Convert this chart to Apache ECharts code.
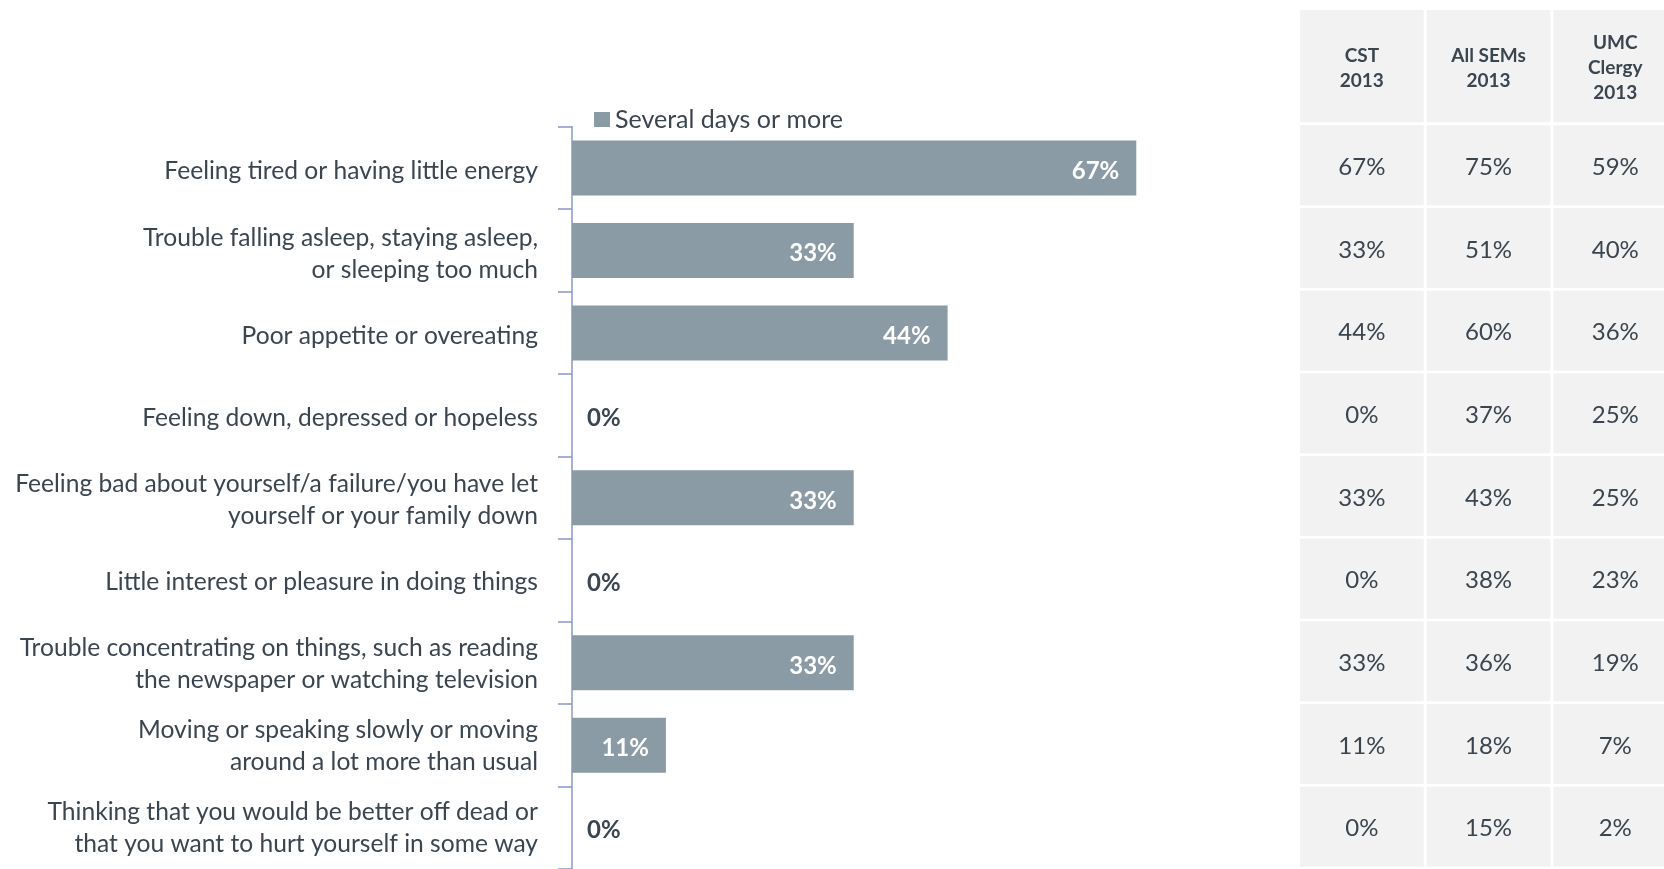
<!DOCTYPE html>
<html lang="en">
<head>
    <meta charset="UTF-8">
    <script src="https://cdn.jsdelivr.net/npm/echarts@6/dist/echarts.min.js"></script>
    <style>
        body {margin:0; background:#fff;}
        #box {width:1664px; height:869px;}
    </style>
    <title>Several days or more</title>
</head>
<body>
    <div id="box"></div>
    <script>
        // bar chart data (share of respondents, n = 9)
        let categories = [
            'Feeling tired or having little energy',
            'Trouble falling asleep, staying asleep,\nor sleeping too much',
            'Poor appetite or overeating',
            'Feeling down, depressed or hopeless',
            'Feeling bad about yourself/a failure/you have let\nyourself or your family down',
            'Little interest or pleasure in doing things',
            'Trouble concentrating on things, such as reading\nthe newspaper or watching television',
            'Moving or speaking slowly or moving\naround a lot more than usual',
            'Thinking that you would be better off dead or\nthat you want to hurt yourself in some way'
        ]
        let severalDays = [66.7, 33.3, 44.4, 0, 33.3, 0, 33.3, 11.1, 0]

        // comparison table
        let tableHeaders = ['CST\n2013', 'All SEMs\n2013', 'UMC\nClergy\n2013']
        let cst2013 = [67, 33, 44, 0, 33, 0, 33, 11, 0]
        let allSems2013 = [75, 51, 60, 37, 43, 38, 36, 18, 15]
        let umcClergy2013 = [59, 40, 36, 25, 25, 23, 19, 7, 2]

        const FONT = 'Lato'
        const TXT = '#3b4550'
        const AXIS = '#8797cc'

        let chart = echarts.init(document.getElementById('box'))

        let barData = severalDays.map(v => {
            let item = {value: v}
            if (v === 0) {
                item.label = {position: 'right', distance: 15, color: TXT}
            }
            return item
        })

        let cellData = []
        let cols = [cst2013, allSems2013, umcClergy2013]
        cols.forEach((col, ci) => {
            col.forEach((v, ri) => cellData.push([ci, ri, v + '%']))
        })
        let headData = tableHeaders.map((h, ci) => [ci, 0, h])

        // table columns are 126.7px apart, the last one runs off the page
        let tableLeft = 1298.5
        let colMax = -0.5 + (1664 - tableLeft) / 126.7

        function cellRenderer(src, gapY, textStyle) {
            return function (params, api) {
                let c = api.coord([api.value(0), api.value(1)])
                let s = api.size([1, 1])
                return {
                    type: 'group',
                    children: [{
                        type: 'rect',
                        shape: {x: c[0] - s[0] / 2 + 1.5, y: c[1] - s[1] / 2 + gapY / 2, width: s[0] - 3, height: s[1] - gapY},
                        style: {fill: '#f2f2f2'}
                    }, {
                        type: 'text',
                        style: Object.assign({
                            text: src[params.dataIndex][2], x: c[0], y: c[1] + 2,
                            align: 'center', verticalAlign: 'middle',
                            fontFamily: FONT, fill: TXT
                        }, textStyle)
                    }]
                }
            }
        }

        let options = {
            animation: false,
            legend: {
                left: 589, top: 102,
                icon: 'rect', itemWidth: 16, itemHeight: 15, itemGap: 5,
                textStyle: {fontFamily: FONT, fontSize: 25, color: TXT},
                data: ['Several days or more']
            },
            grid: [
                {left: 572, top: 126.7, width: 846, height: 747},
                {left: tableLeft, top: 124, right: 0, height: 744},
                {left: tableLeft, top: 10, right: 0, height: 112.3},
                // labels only, sit a little lower than the band centres
                {left: 572, top: 130.5, width: 846, height: 747}
            ],
            xAxis: [
                {gridIndex: 0, type: 'value', min: 0, max: 100, show: false, splitLine: {show: false}},
                {gridIndex: 1, type: 'value', min: -0.5, max: colMax, show: false, splitLine: {show: false}},
                {gridIndex: 2, type: 'value', min: -0.5, max: colMax, show: false, splitLine: {show: false}},
                {gridIndex: 3, type: 'value', min: 0, max: 100, show: false, splitLine: {show: false}}
            ],
            yAxis: [
                {
                    gridIndex: 0, type: 'category', inverse: true, data: categories,
                    axisLine: {show: true, lineStyle: {color: AXIS, width: 1.5}},
                    axisTick: {show: true, length: 14, lineStyle: {color: AXIS, width: 1.5}},
                    axisLabel: {show: false}
                },
                {gridIndex: 1, type: 'category', inverse: true, data: categories.map((c, i) => i), show: false},
                {gridIndex: 2, type: 'category', data: [0], show: false},
                {
                    gridIndex: 3, type: 'category', inverse: true, data: categories,
                    axisLine: {show: false}, axisTick: {show: false},
                    axisLabel: {margin: 34, fontFamily: FONT, fontSize: 24.6, lineHeight: 32, color: TXT, align: 'right'}
                }
            ],
            series: [
                {
                    name: 'Several days or more',
                    type: 'bar', xAxisIndex: 0, yAxisIndex: 0,
                    barWidth: 55,
                    itemStyle: {color: '#8b9ba5'},
                    label: {
                        show: true, position: 'insideRight', distance: 17, offset: [0, 3],
                        fontFamily: FONT, fontSize: 24, fontWeight: 'bold', color: '#fff',
                        formatter: p => Math.round(p.value) + '%'
                    },
                    data: barData
                },
                {
                    type: 'custom', xAxisIndex: 1, yAxisIndex: 1,
                    renderItem: cellRenderer(cellData, 2.7, {fontSize: 24}),
                    data: cellData.map(d => [d[0], d[1]])
                },
                {
                    type: 'custom', xAxisIndex: 2, yAxisIndex: 2,
                    renderItem: cellRenderer(headData, 0, {fontSize: 19, fontWeight: 'bold', lineHeight: 25}),
                    data: headData.map(d => [d[0], d[1]])
                }
            ]
        }
        chart.setOption(options)
    </script>
</body>
</html>
